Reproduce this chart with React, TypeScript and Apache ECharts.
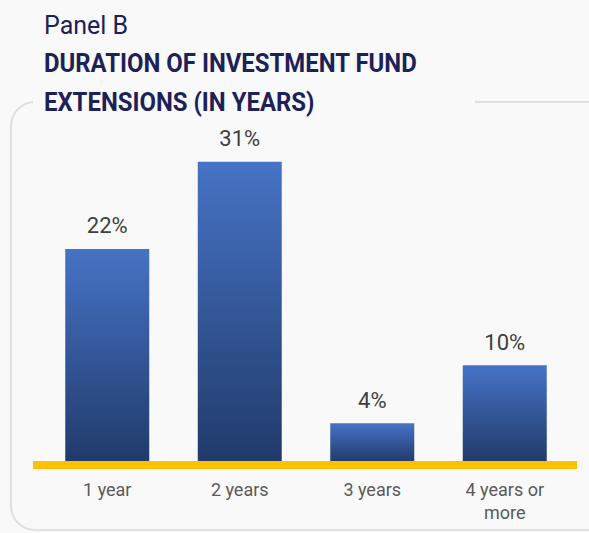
import React, { useEffect, useRef } from "react";
import * as echarts from "echarts";

const categories = ["1 year", "2 years", "3 years", "4 years or\nmore"];
const values = [22, 31, 4, 10];
const panelLabel = "Panel B";
const titleLines = ["DURATION OF INVESTMENT FUND", "EXTENSIONS (IN YEARS)"];

export default function App() {
  const ref = useRef<HTMLDivElement>(null);
  useEffect(() => {
    if (!ref.current) return;
    const chart = echarts.init(ref.current, null, { renderer: "svg" });
    const bg = "#f9f9f9";
    chart.setOption({
      animation: false,
      backgroundColor: bg,
      grid: { left: 41, width: 530, top: 123, bottom: 71, containLabel: false },
      xAxis: {
        type: "category",
        data: categories,
        axisLine: { show: false },
        axisTick: { show: false },
        axisLabel: {
          color: "#595959",
          fontFamily: "Roboto",
          fontSize: 18,
          lineHeight: 23,
          margin: 16,
          interval: 0,
        },
      },
      yAxis: {
        type: "value",
        min: 0,
        max: 35,
        show: false,
        splitLine: { show: false },
      },
      series: [
        {
          type: "bar",
          data: values,
          barWidth: 84,
          itemStyle: {
            color: new echarts.graphic.LinearGradient(0, 0, 0, 1, [
              { offset: 0, color: "#4673c6" },
              { offset: 1, color: "#213a6a" },
            ]),
          },
          label: {
            show: true,
            position: "top",
            distance: 12,
            formatter: "{c}%",
            color: "#404040",
            fontFamily: "Roboto",
            fontSize: 22,
          },
        },
      ],
      graphic: [
        {
          type: "rect",
          z: -1,
          shape: { x: 11, y: 102, width: 620, height: 428, r: 24 },
          style: { fill: bg, stroke: "#e0e0e0", lineWidth: 2 },
        },
        {
          type: "rect",
          z: 0,
          shape: { x: 33, y: 95, width: 442, height: 14 },
          style: { fill: bg },
        },
        {
          type: "rect",
          z: 100,
          shape: { x: 33, y: 461, width: 544, height: 8 },
          style: { fill: "#ffc000" },
        },
        {
          type: "text",
          z: 100,
          x: 44,
          y: 13,
          style: {
            text: panelLabel,
            fill: "#1c2157",
            font: "25px Roboto",
          },
        },
        {
          type: "text",
          z: 100,
          x: 44,
          y: 50,
          scaleX: 0.92,
          style: {
            text: titleLines[0],
            fill: "#1c2157",
            font: "bold 26px Roboto",
          },
        },
        {
          type: "text",
          z: 100,
          x: 44,
          y: 89,
          scaleX: 0.92,
          style: {
            text: titleLines[1],
            fill: "#1c2157",
            font: "bold 26px Roboto",
          },
        },
      ],
    });
    return () => chart.dispose();
  }, []);
  return (
    <div
      ref={ref}
      style={{ position: "fixed", left: 0, top: 0, width: 589, height: 533 }}
    />
  );
}
